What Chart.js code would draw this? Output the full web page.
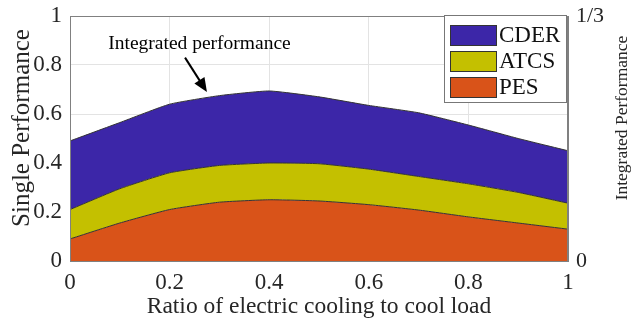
<!DOCTYPE html>
<html>
<head>
<meta charset="utf-8">
<script src="https://cdn.jsdelivr.net/npm/chart.js@4.4.0/dist/chart.umd.min.js"></script>
<style>
  html, body { margin: 0; padding: 0; background: #fff; }
  #wrap { width: 633px; height: 324px; }
</style>
</head>
<body>
<div id="wrap"><canvas id="grafico" width="633" height="324"></canvas></div>
<script>
// dados (topo de cada camada)
const ratio = [0, 0.1, 0.2, 0.3, 0.4, 0.5, 0.6, 0.7, 0.8, 0.9, 1]
const pes  = [0.09, 0.155, 0.21, 0.24, 0.25, 0.245, 0.23, 0.208, 0.18, 0.155, 0.13]
const atcs = [0.21, 0.295, 0.36, 0.39, 0.40, 0.397, 0.375, 0.345, 0.315, 0.28, 0.236]
const cder = [0.49, 0.565, 0.64, 0.675, 0.694, 0.67, 0.635, 0.605, 0.555, 0.50, 0.45]
const rightTicks = ['0', '1/3']

const serif = "'Liberation Serif', 'DejaVu Serif', serif"
const txt = '#262626'

function pts(arr) {
  return arr.map((v, i) => ({ x: ratio[i], y: v }))
}

function rotText(ctx, text, x, y, size) {
  ctx.save()
  ctx.translate(x, y)
  ctx.rotate(-Math.PI / 2)
  ctx.font = size + 'px ' + serif
  ctx.fillStyle = txt
  ctx.textAlign = 'center'
  ctx.textBaseline = 'middle'
  ctx.fillText(text, 0, 0)
  ctx.restore()
}

// moldura, legenda, anotação e títulos verticais
const extras = {
  id: 'extras',
  afterDraw(chart) {
    const ctx = chart.ctx
    const a = chart.chartArea
    const sx = chart.scales.x
    const sy = chart.scales.y

    ctx.save()
    ctx.strokeStyle = '#808080'
    ctx.lineWidth = 1
    ctx.strokeRect(a.left + 0.5, a.top + 0.5, a.right - a.left - 1, a.bottom - a.top)

    // legenda
    const order = [2, 1, 0]
    const bx = a.right - 124, by = a.top - 1
    ctx.fillStyle = '#fff'
    ctx.fillRect(bx, by, 123, 88)
    ctx.strokeStyle = '#777'
    ctx.strokeRect(bx + 0.5, by + 0.5, 122, 87)
    ctx.font = '23px ' + serif
    ctx.textBaseline = 'middle'
    order.forEach((di, k) => {
      const ds = chart.data.datasets[di]
      const yy = by + 10 + k * 26
      ctx.fillStyle = ds.backgroundColor
      ctx.fillRect(bx + 6, yy, 46, 20)
      ctx.strokeStyle = '#333'
      ctx.strokeRect(bx + 6.5, yy + 0.5, 46, 20)
      ctx.fillStyle = '#111'
      ctx.fillText(ds.label, bx + 55, yy + 11)
    })

    // anotação
    ctx.fillStyle = '#000'
    ctx.font = '19.5px ' + serif
    ctx.textAlign = 'center'
    ctx.fillText('Integrated performance', sx.getPixelForValue(0.26), sy.getPixelForValue(0.886))
    const x1 = sx.getPixelForValue(0.231), y1 = sy.getPixelForValue(0.83)
    const x2 = sx.getPixelForValue(0.275), y2 = sy.getPixelForValue(0.69)
    const ang = Math.atan2(y2 - y1, x2 - x1)
    ctx.strokeStyle = '#000'
    ctx.lineWidth = 2
    ctx.beginPath()
    ctx.moveTo(x1, y1)
    ctx.lineTo(x2 - 9 * Math.cos(ang), y2 - 9 * Math.sin(ang))
    ctx.stroke()
    ctx.beginPath()
    ctx.moveTo(x2, y2)
    ctx.lineTo(x2 - 14 * Math.cos(ang) + 6 * Math.sin(ang), y2 - 14 * Math.sin(ang) - 6 * Math.cos(ang))
    ctx.lineTo(x2 - 14 * Math.cos(ang) - 6 * Math.sin(ang), y2 - 14 * Math.sin(ang) + 6 * Math.cos(ang))
    ctx.closePath()
    ctx.fill()
    ctx.restore()

    rotText(ctx, 'Single Performance', 22, 128, 25)
    rotText(ctx, 'Integrated Performance', 622, 118, 17.5)
  }
}

const grafico = document.getElementById('grafico')
const fmt = v => String(+Number(v).toFixed(1))

new Chart(grafico, {
  type: 'line',
  data: {
    datasets: [
      { label: 'PES', data: pts(pes), backgroundColor: '#D95319', fill: 'origin' },
      { label: 'ATCS', data: pts(atcs), backgroundColor: '#C4C000', fill: '-1' },
      { label: 'CDER', data: pts(cder), backgroundColor: '#3C26A8', fill: '-1' }
    ]
  },
  options: {
    responsive: false,
    animation: false,
    devicePixelRatio: 1,
    layout: { padding: { top: 16, right: 0, left: 0, bottom: 0 } },
    elements: {
      line: { borderColor: '#333', borderWidth: 1, tension: 0.15 },
      point: { radius: 0 }
    },
    plugins: {
      legend: { display: false },
      tooltip: { enabled: false }
    },
    scales: {
      x: {
        type: 'linear',
        min: 0,
        max: 1,
        ticks: { stepSize: 0.2, color: txt, font: { family: serif, size: 23 }, padding: 8, maxRotation: 0, callback: fmt },
        grid: { color: '#e3e3e3', drawTicks: false },
        border: { color: '#808080' },
        title: { display: true, text: 'Ratio of electric cooling to cool load', color: txt, font: { family: serif, size: 23.5 }, padding: { top: 0, bottom: 3 } },
        afterFit: s => { s.height = 63; s.paddingLeft = 0; s.paddingRight = 0 }
      },
      y: {
        position: 'left',
        min: 0,
        max: 1,
        ticks: { stepSize: 0.2, color: txt, font: { family: serif, size: 23 }, padding: 8, callback: fmt },
        grid: { color: '#e3e3e3', drawTicks: false },
        border: { color: '#808080' },
        afterFit: s => { s.width = 70; s.paddingTop = 0; s.paddingBottom = 0 }
      },
      y2: {
        position: 'right',
        min: 0,
        max: 1 / 3,
        afterBuildTicks: s => { s.ticks = [{ value: 0 }, { value: 1 / 3 }] },
        ticks: { color: txt, font: { family: serif, size: 22 }, padding: 8, callback: (v, i) => rightTicks[i] },
        grid: { display: false, drawTicks: false },
        border: { color: '#808080' },
        afterFit: s => { s.width = 65; s.paddingTop = 0; s.paddingBottom = 0 }
      }
    }
  },
  plugins: [extras]
})
</script>
</body>
</html>
